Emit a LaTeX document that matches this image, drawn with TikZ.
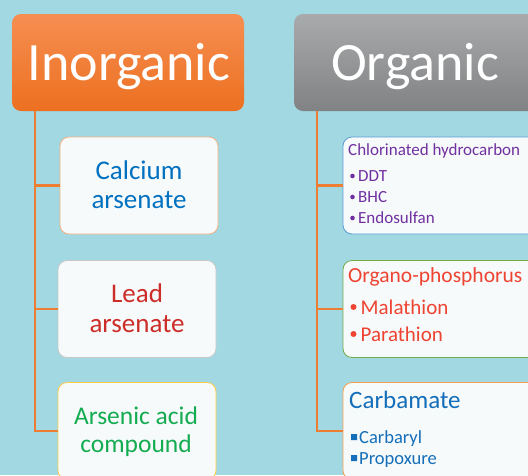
\documentclass[tikz,border=0pt]{standalone}
\usepackage{fontspec}
\setmainfont{Carlito}
\definecolor{bgc}{RGB}{161,216,226}
\definecolor{trunkc}{RGB}{237,125,49}
\definecolor{fillc}{RGB}{246,250,251}
\definecolor{orgtop}{RGB}{246,142,82}
\definecolor{orgbot}{RGB}{236,112,32}
\definecolor{grytop}{RGB}{168,170,171}
\definecolor{grybot}{RGB}{128,130,131}
\definecolor{calcb}{RGB}{244,177,131}
\definecolor{leadb}{RGB}{200,200,200}
\definecolor{arsb}{RGB}{255,205,70}
\definecolor{chlb}{RGB}{91,155,213}
\definecolor{opb}{RGB}{112,173,71}
\definecolor{carbb}{RGB}{244,160,80}
\definecolor{tblue}{RGB}{0,112,192}
\definecolor{tred}{RGB}{205,45,40}
\definecolor{tgreen}{RGB}{20,172,80}
\definecolor{tpurple}{RGB}{112,48,160}
\definecolor{torange}{RGB}{238,68,50}
\definecolor{tcarb}{RGB}{20,110,185}
\begin{document}
\begin{tikzpicture}[x=1pt,y=-1pt,
  headbox/.style={rounded corners=9pt, inner sep=0pt},
  subbox/.style={draw, line width=0.8pt, fill=fillc, rounded corners=9pt, inner sep=0pt, minimum height=97pt},
  trunk/.style={draw=trunkc, line width=2.5pt},
  headtxt/.style={anchor=base, text=white, inner sep=0pt, font=\fontsize{54}{60}\selectfont},
  ctxt/.style={anchor=base, inner sep=0pt},
  ltxt/.style={anchor=base west, inner sep=0pt}]
\useasboundingbox (0,0) rectangle (528,475);
\clip (0,0) rectangle (528,475);
\fill[bgc] (0,0) rectangle (528,475);
% header boxes
\node[headbox, top color=orgtop, bottom color=orgbot, minimum width=232pt, minimum height=97pt] (inorg) at (128,62.5) {};
\node[headbox, top color=grytop, bottom color=grybot, minimum width=246pt, minimum height=97pt] (org) at (417,62.5) {};
\node[headtxt] (inorgt) at (129,80) {Inorganic};
\node[headtxt] (orgt) at (415,80) {Organic};
% left boxes
\node[subbox, draw=calcb, minimum width=158pt] (calc) at (139,185.5) {};
\node[subbox, draw=leadb, minimum width=158pt] (lead) at (137,309) {};
\node[subbox, draw=arsb, minimum width=158pt] (ars) at (137,431) {};
% right boxes
\node[subbox, draw=chlb, minimum width=217pt] (chl) at (451.5,185.5) {};
\node[subbox, draw=opb, minimum width=217pt] (op) at (451.5,309) {};
\node[subbox, draw=carbb, minimum width=217pt] (carb) at (451.5,431) {};
% trunks
\coordinate (lt) at (35,0);
\coordinate (rt) at (317,0);
\draw[trunk] (inorg.south -| lt) |- (ars.west);
\draw[trunk] (calc.west -| lt) -- (calc.west);
\draw[trunk] (lead.west -| lt) -- (lead.west);
\draw[trunk] (org.south -| rt) |- (carb.west);
\draw[trunk] (chl.west -| rt) -- (chl.west);
\draw[trunk] (op.west -| rt) -- (op.west);
% left texts
\begin{scope}[every node/.append style={font=\fontsize{27}{30}\selectfont}]
\node[ctxt, text=tblue] (calc1) at (139,179) {Calcium};
\node[ctxt, text=tblue] (calc2) at (139,208) {arsenate};
\node[ctxt, text=tred] (lead1) at (137,302) {Lead};
\node[ctxt, text=tred] (lead2) at (137,332) {arsenate};
\end{scope}
\begin{scope}[every node/.append style={font=\fontsize{25.5}{29}\selectfont}]
\node[ctxt, text=tgreen] (ars1) at (136,424) {Arsenic acid};
\node[ctxt, text=tgreen] (ars2) at (136,452) {compound};
\end{scope}
% right texts
\node[ltxt, text=tpurple, font=\fontsize{17}{20}\selectfont] (chl0) at (348,155) {Chlorinated hydrocarbon};
\begin{scope}[every node/.append style={ltxt, text=tpurple, font=\fontsize{17}{20}\selectfont}]
\node (chl1) at (358,181) {DDT};
\node (chl2) at (358,202) {BHC};
\node (chl3) at (358,223) {Endosulfan};
\end{scope}
\fill[tpurple] (352.5,176) circle (2.3pt) (352.5,197) circle (2.3pt) (352.5,218) circle (2.3pt);
\node[ltxt, text=torange, font=\fontsize{21.5}{25}\selectfont] (op0) at (348,282) {Organo-phosphorus};
\begin{scope}[every node/.append style={ltxt, text=torange, font=\fontsize{21}{25}\selectfont}]
\node (op1) at (360.5,314) {Malathion};
\node (op2) at (360.5,341) {Parathion};
\end{scope}
\fill[torange] (353.5,307) circle (3pt) (353.5,334) circle (3pt);
\node[ltxt, text=tcarb, font=\fontsize{25}{29}\selectfont] (carb0) at (349,408) {Carbamate};
\begin{scope}[every node/.append style={ltxt, text=tcarb, font=\fontsize{18.5}{22}\selectfont}]
\node (carb1) at (359,443) {Carbaryl};
\node (carb2) at (359,464) {Propoxure};
\end{scope}
\fill[tcarb] (351,434) rectangle (357,440) (351,455) rectangle (357,461);
\end{tikzpicture}
\end{document}
